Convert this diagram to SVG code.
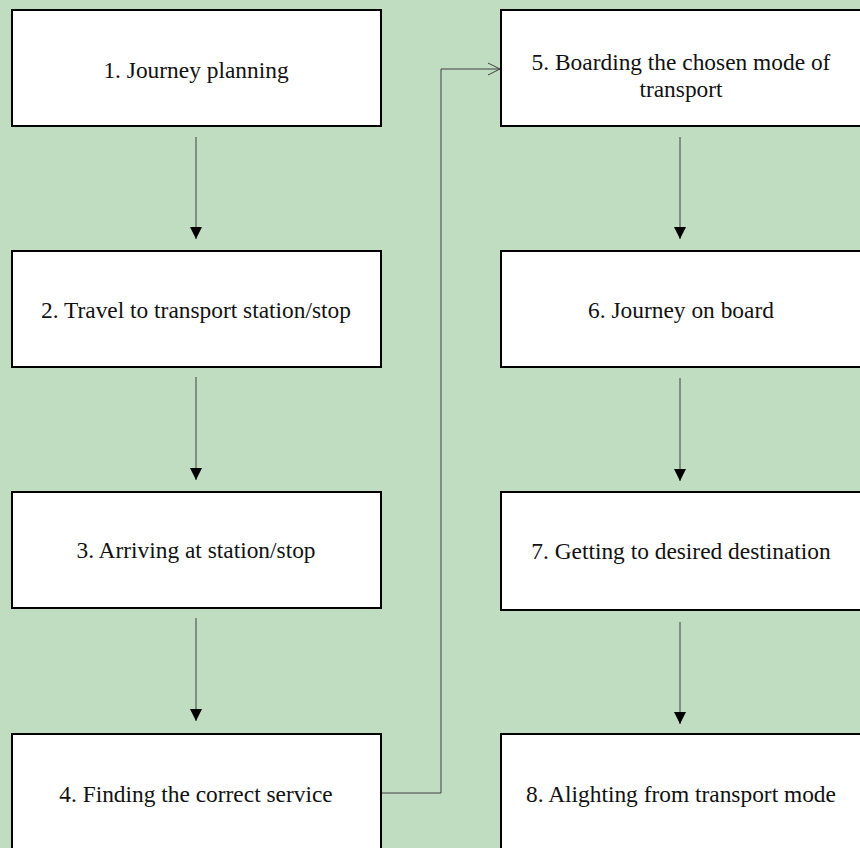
<svg xmlns="http://www.w3.org/2000/svg" width="860" height="848" viewBox="0 0 860 848">
<style>
.box{fill:#fff;stroke:#000;stroke-width:2}
.lbl{font-family:'Liberation Serif','Times New Roman',serif;font-size:23.4px;fill:#111;text-anchor:middle}
.con{fill:none;stroke:#404040;stroke-width:1}
</style>
<defs>
<marker id="tri" markerWidth="12" markerHeight="12" refX="12" refY="6" orient="auto" markerUnits="userSpaceOnUse">
<path d="M0,0 L12,6 L0,12 Z" fill="#000"/>
</marker>
<marker id="open" markerWidth="14" markerHeight="14" refX="13" refY="7" orient="auto" markerUnits="userSpaceOnUse">
<path d="M1,1 L13,7 L1,13" fill="none" stroke="#404040" stroke-width="1"/>
</marker>
</defs>
<rect width="860" height="848" fill="#C0DDC2"/>
<g id="connectors">
<line class="con" x1="196" y1="137" x2="196" y2="239" marker-end="url(#tri)"/>
<line class="con" x1="196" y1="377" x2="196" y2="480" marker-end="url(#tri)"/>
<line class="con" x1="196" y1="618" x2="196" y2="721" marker-end="url(#tri)"/>
<polyline class="con" points="381,793 441,793 441,69 500,69" marker-end="url(#open)"/>
<line class="con" x1="680" y1="137" x2="680" y2="239" marker-end="url(#tri)"/>
<line class="con" x1="680" y1="378" x2="680" y2="481" marker-end="url(#tri)"/>
<line class="con" x1="680" y1="622" x2="680" y2="724" marker-end="url(#tri)"/>
</g>
<g id="n1"><rect class="box" x="12" y="10" width="369" height="116"/><text class="lbl" x="196" y="78">1. Journey planning</text></g>
<g id="n2"><rect class="box" x="12" y="251" width="369" height="116"/><text class="lbl" x="196" y="318">2. Travel to transport station/stop</text></g>
<g id="n3"><rect class="box" x="12" y="492" width="369" height="116"/><text class="lbl" x="196" y="558">3. Arriving at station/stop</text></g>
<g id="n4"><rect class="box" x="12" y="734" width="369" height="120"/><text class="lbl" x="196" y="802">4. Finding the correct service</text></g>
<g id="n5"><rect class="box" x="501" y="10" width="362" height="116"/><text class="lbl" x="681" y="70">5. Boarding the chosen mode of</text><text class="lbl" x="681" y="97">transport</text></g>
<g id="n6"><rect class="box" x="501" y="251" width="362" height="116"/><text class="lbl" x="681" y="318">6. Journey on board</text></g>
<g id="n7"><rect class="box" x="501" y="492" width="362" height="118"/><text class="lbl" x="681" y="559">7. Getting to desired destination</text></g>
<g id="n8"><rect class="box" x="501" y="734" width="362" height="120"/><text class="lbl" x="681" y="802">8. Alighting from transport mode</text></g>
</svg>
